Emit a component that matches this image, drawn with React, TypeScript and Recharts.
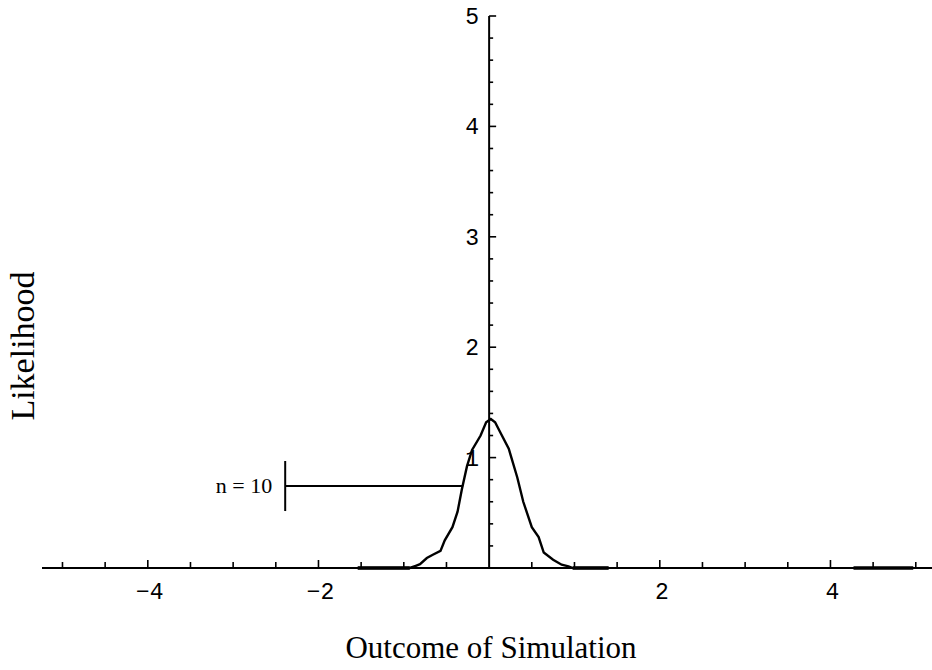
import React from 'react';
import { ComposedChart, Line, XAxis, YAxis, ReferenceLine, ReferenceDot } from 'recharts';

// Simulated outcome distribution (n = 10)
const outcome = [-1.54, -0.93, -0.86, -0.81, -0.73, -0.66, -0.57, -0.52, -0.43, -0.37, -0.32, -0.26, -0.2, -0.1, -0.035, 0.02, 0.07, 0.13, 0.23, 0.33, 0.4, 0.5, 0.58, 0.64, 0.75, 0.85, 0.93, 0.98, 1.4];
const likelihood = [0, 0, 0.02, 0.035, 0.09, 0.12, 0.155, 0.25, 0.37, 0.51, 0.71, 0.92, 1.07, 1.2, 1.32, 1.35, 1.32, 1.23, 1.08, 0.82, 0.6, 0.37, 0.28, 0.14, 0.075, 0.03, 0.015, 0, 0];

// Flat stretches of the plotted curve lying on zero
const flatStart = [-1.54, 0.98, 4.27];
const flatEnd = [-0.93, 1.4, 4.97];

// Axis ticks
const xTicks = [-5, -4.5, -4, -3.5, -3, -2.5, -2, -1.5, -1, -0.5, 0.5, 1, 1.5, 2, 2.5, 3, 3.5, 4, 4.5, 5];
const xLabeled = [-4, -2, 2, 4];
const yTicks = [0.2, 0.4, 0.6, 0.8, 1, 1.2, 1.4, 1.6, 1.8, 2, 2.2, 2.4, 2.6, 2.8, 3, 3.2, 3.4, 3.6, 3.8, 4, 4.2, 4.4, 4.6, 4.8, 5];
const yLabeled = [1, 2, 3, 4, 5];

// Annotation "n = 10"
const annLabel = 'n = 10';
const annY = 0.743;
const annXLeft = -2.39;
const annXRight = -0.305;
const annBarLow = 0.516;
const annBarHigh = 0.969;

const xDomain: [number, number] = [-5.24, 5.19];
const yDomain: [number, number] = [0, 5];

const curveData = outcome.map((x, i) => ({ x, y: likelihood[i] }));

const tickFont = '"Liberation Mono", "DejaVu Sans Mono", monospace';
const serifFont = '"Liberation Serif", "Times New Roman", serif';

const XTick = (props: any) => {
  const { x, y, payload } = props;
  const v = payload.value;
  const major = xLabeled.includes(v);
  return (
    <g>
      <line x1={x} y1={y} x2={x} y2={y - (major ? 8 : 6)} stroke="#000" strokeWidth={1.6} />
      {major && (
        <text x={x + 2} y={y + 31} textAnchor="middle" fontFamily={tickFont} fontSize={23} fill="#000">
          {v < 0 ? `\u2212${Math.abs(v)}` : `${v}`}
        </text>
      )}
    </g>
  );
};

const makeYTickShape = (v: number) => (props: any) => {
  const { cx, cy } = props;
  const major = yLabeled.includes(v);
  return (
    <g>
      <line x1={cx} y1={cy} x2={cx + (major ? 7 : 4)} y2={cy} stroke="#000" strokeWidth={1.6} />
      {major && (
        <text x={cx - 10} y={cy + 8} textAnchor="end" fontFamily={tickFont} fontSize={23} fill="#000">
          {v}
        </text>
      )}
    </g>
  );
};

const annLineShape = (props: any) => {
  const { x1, y1, x2, y2 } = props;
  return (
    <g>
      <line x1={x1} y1={y1} x2={x2} y2={y2} stroke="#000" strokeWidth={2} />
      <text x={x1 - 13} y={y1 + 7} textAnchor="end" fontFamily={serifFont} fontSize={22} fill="#000">
        {annLabel}
      </text>
    </g>
  );
};

export default function App() {
  return (
    <div style={{ position: 'absolute', left: 0, top: 0, width: 932, height: 670, background: '#fff' }}>
      <ComposedChart
        width={932}
        height={670}
        margin={{ top: 16, right: 0, bottom: 72, left: 42 }}
      >
        <XAxis
          type="number"
          dataKey="x"
          domain={xDomain}
          ticks={xTicks}
          interval={0}
          tickSize={0}
          tickMargin={0}
          tickLine={false}
          height={30}
          axisLine={{ stroke: '#000', strokeWidth: 2 }}
          tick={<XTick />}
        />
        <YAxis type="number" domain={yDomain} hide />
        <ReferenceLine x={0} stroke="#000" strokeWidth={2} />
        {yTicks.map((v) => (
          <ReferenceDot key={v} x={0} y={v} r={0} shape={makeYTickShape(v)} />
        ))}
        {flatStart.map((a, i) => (
          <Line
            key={`flat-${i}`}
            data={[{ x: a, y: 0 }, { x: flatEnd[i], y: 0 }]}
            dataKey="y"
            stroke="#000"
            strokeWidth={3.6}
            dot={false}
            activeDot={false}
            isAnimationActive={false}
          />
        ))}
        <Line
          data={curveData}
          dataKey="y"
          type="linear"
          stroke="#000"
          strokeWidth={2.4}
          dot={false}
          activeDot={false}
          isAnimationActive={false}
        />
        <ReferenceLine
          segment={[{ x: annXLeft, y: annY }, { x: annXRight, y: annY }]}
          shape={annLineShape}
        />
        <ReferenceLine
          segment={[{ x: annXLeft, y: annBarLow }, { x: annXLeft, y: annBarHigh }]}
          stroke="#000"
          strokeWidth={2}
        />
      </ComposedChart>
      <div
        style={{
          position: 'absolute',
          left: 491,
          top: 630,
          transform: 'translateX(-50%)',
          whiteSpace: 'nowrap',
          fontFamily: serifFont,
          fontSize: 31,
          lineHeight: '36px',
          color: '#000',
        }}
      >
        Outcome of Simulation
      </div>
      <div
        style={{
          position: 'absolute',
          left: 23,
          top: 346,
          transform: 'translate(-50%, -50%) rotate(-90deg)',
          whiteSpace: 'nowrap',
          fontFamily: serifFont,
          fontSize: 34,
          lineHeight: '36px',
          color: '#000',
        }}
      >
        Likelihood
      </div>
    </div>
  );
}
